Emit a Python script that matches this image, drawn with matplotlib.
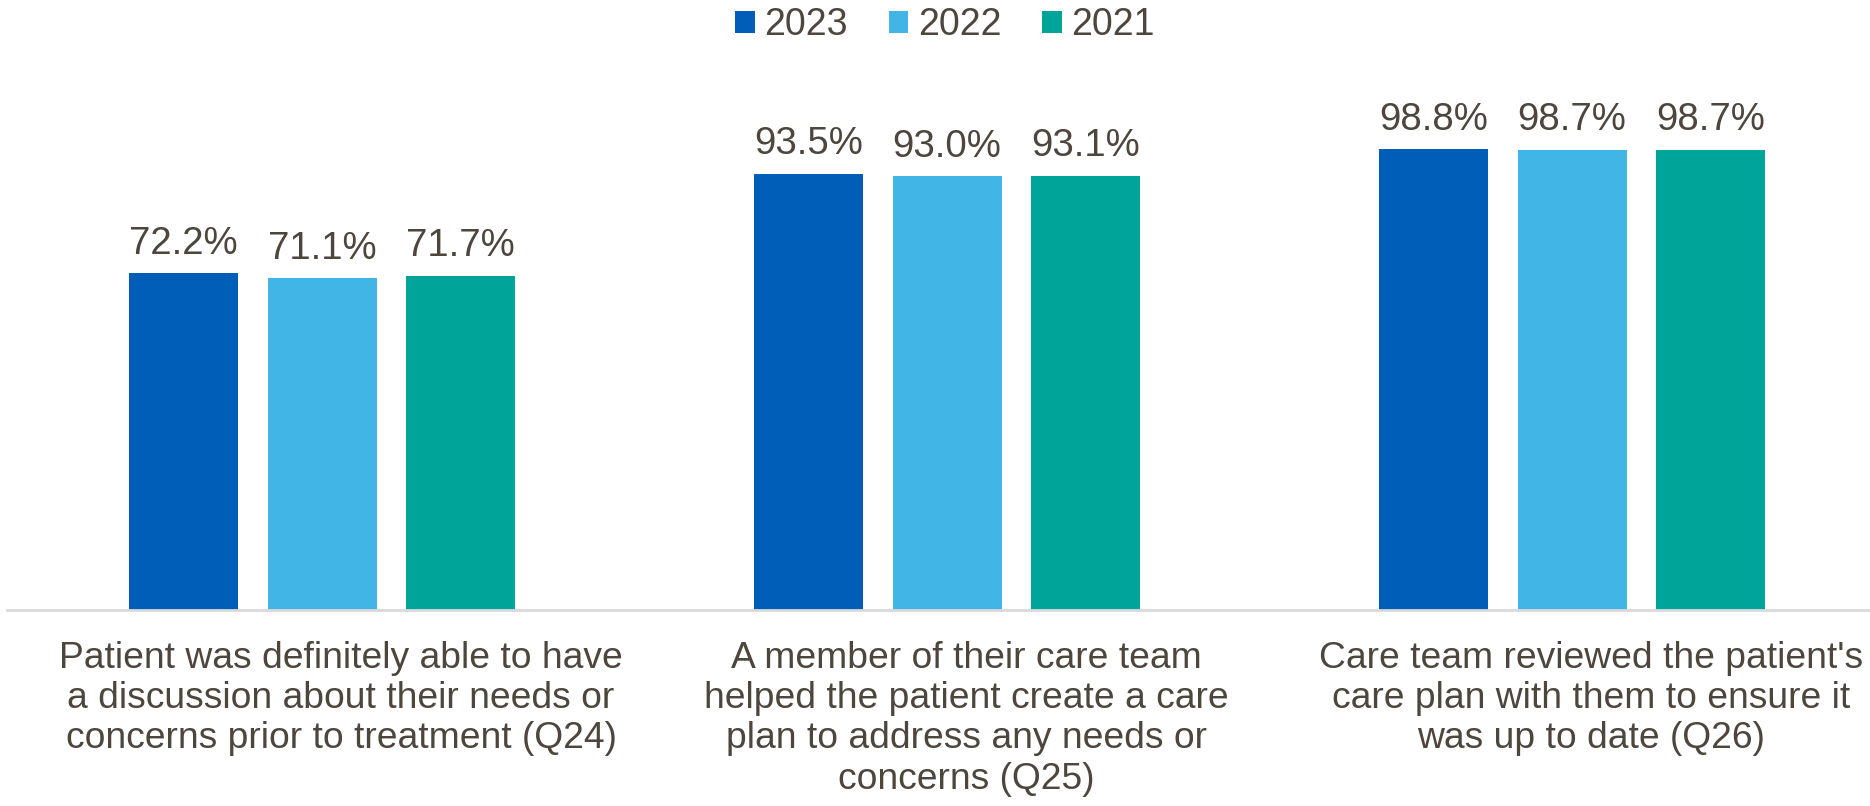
import numpy as np
import matplotlib.pyplot as plt
import matplotlib.transforms as mtransforms

plt.rcParams['font.family'] = ['Liberation Sans', 'DejaVu Sans']

TEXT = '#4d463d'

questions = [
    "Patient was definitely able to have\na discussion about their needs or\nconcerns prior to treatment (Q24)",
    "A member of their care team\nhelped the patient create a care\nplan to address any needs or\nconcerns (Q25)",
    "Care team reviewed the patient's\ncare plan with them to ensure it\nwas up to date (Q26)",
]
years = ['2023', '2022', '2021']
vals_2023 = [72.2, 93.5, 98.8]
vals_2022 = [71.1, 93.0, 98.7]
vals_2021 = [71.7, 93.1, 98.7]
colours = ['#005eb8', '#41b6e6', '#00a499']

W, H = 1870, 806
fig = plt.figure(figsize=(W / 100, H / 100), dpi=100)
ax = fig.add_axes([7 / W, (H - 610) / H, 1 - 7 / W, 513 / H])

x = np.arange(len(questions))
width = 0.1744
step = 0.2216
for i, (vals, yr, col) in enumerate(zip([vals_2023, vals_2022, vals_2021], years, colours)):
    bars = ax.bar(x + (i - 1) * step, vals, width, color=col, label=yr)
    ax.bar_label(bars, labels=[f'{v:.1f}%' for v in vals], padding=8.4,
                 fontsize=27.6, color=TEXT)

ax.set_xlim(-0.504, 2.4768)
ax.set_ylim(0, 110)
ax.set_xticks(x)
ax.set_xticklabels(questions, fontsize=26.8, color=TEXT, linespacing=1.2)
ax.tick_params(axis='x', length=0, pad=22)
# category text sits a little right of the group centre
shift = mtransforms.ScaledTranslation(0.19, 0, fig.dpi_scale_trans)
for lbl in ax.get_xticklabels():
    lbl.set_transform(lbl.get_transform() + shift)
ax.set_yticks([])
for s in ['top', 'right', 'left']:
    ax.spines[s].set_visible(False)
ax.spines['bottom'].set_color('#d9d9d9')
ax.spines['bottom'].set_linewidth(2)

fig.legend(loc='center', bbox_to_anchor=(945 / W, 1 - 25 / H), ncol=3,
           frameon=False, fontsize=27, labelcolor=TEXT,
           handlelength=0.52, handleheight=0.52, handletextpad=0.25,
           columnspacing=1.1, borderpad=0)

fig.savefig('out.png', dpi=100)
